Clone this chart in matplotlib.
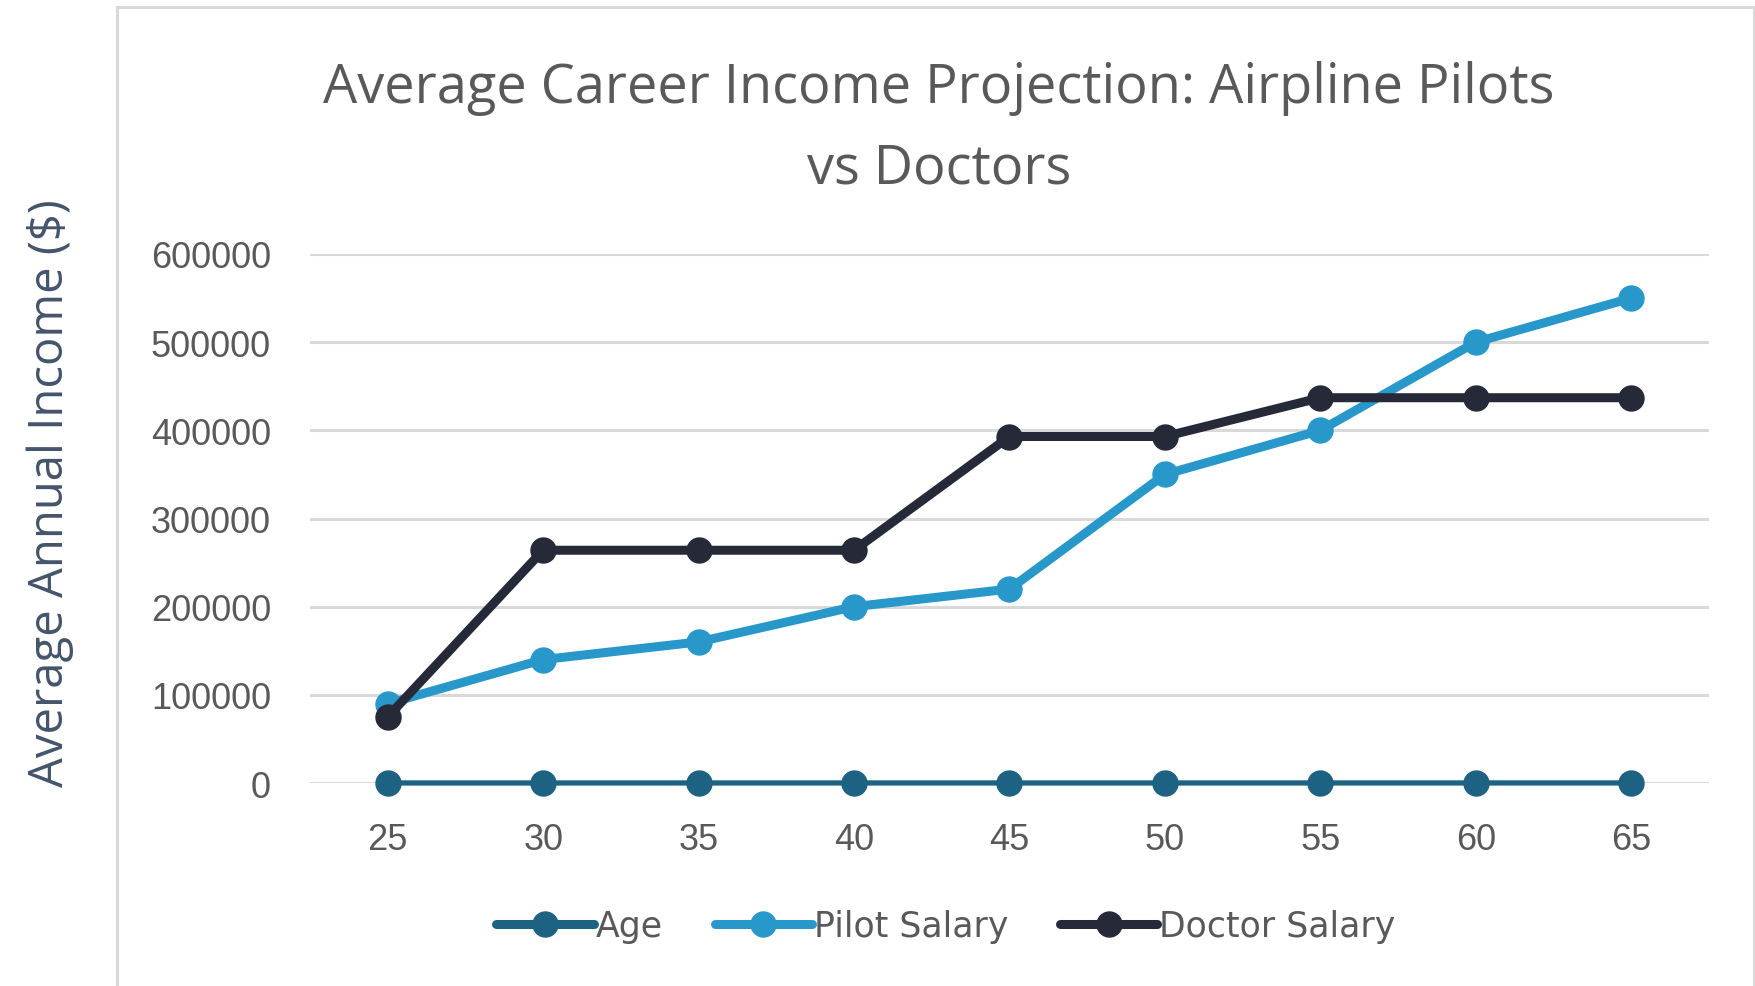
import matplotlib
matplotlib.use('Agg')
import matplotlib.pyplot as plt
from matplotlib.patches import Rectangle
import numpy as np

# data
ages = [25, 30, 35, 40, 45, 50, 55, 60, 65]
age_series = [25, 30, 35, 40, 45, 50, 55, 60, 65]
pilot_salary = [90000, 140000, 160000, 200000, 220000, 350000, 400000, 500000, 550000]
doctor_salary = [75000, 264000, 264000, 264000, 393000, 393000, 437000, 437000, 437000]
y_ticks = [0, 100000, 200000, 300000, 400000, 500000, 600000]

title = 'Average Career Income Projection: Airpline Pilots\nvs Doctors'
y_label = 'Average Annual Income ($)'

age_color = '#1D6283'
pilot_color = '#2898CB'
doctor_color = '#262A38'
grid_color = '#D9D9D9'
text_color = '#595959'

W, H = 1756, 987
fig = plt.figure(figsize=(W / 100, H / 100), dpi=100)
fig.patch.set_facecolor('white')

# chart area border
fig.patches.append(Rectangle((117 / W, -0.05), (1754 - 117) / W, 1.05 - 8 / H,
                             transform=fig.transFigure, fill=False,
                             edgecolor=grid_color, linewidth=2.2))

ax = fig.add_axes([310 / W, 1 - 784 / H, (1709 - 310) / W, (784 - 255) / H])
x = np.arange(len(ages))

ax.plot(x, age_series, color=age_color, lw=3.8, marker='o', ms=18,
        label='Age', solid_capstyle='round', zorder=3, clip_on=False)
ax.plot(x, pilot_salary, color=pilot_color, lw=6.5, marker='o', ms=18,
        label='Pilot Salary', solid_capstyle='round', zorder=4, clip_on=False)
ax.plot(x, doctor_salary, color=doctor_color, lw=6.5, marker='o', ms=18,
        label='Doctor Salary', solid_capstyle='round', zorder=5, clip_on=False)

ax.set_xlim(-0.5, len(ages) - 0.5)
ax.set_ylim(0, 600000)
ax.set_yticks(y_ticks)
ax.set_yticklabels([str(v) for v in y_ticks])
ax.set_xticks(x)
ax.set_xticklabels([str(a) for a in ages])
ax.grid(axis='y', color=grid_color, lw=2.2, zorder=0)
ax.set_axisbelow(True)
for s in ax.spines.values():
    s.set_visible(False)
ax.tick_params(axis='both', length=0, colors=text_color, labelsize=26)
ax.tick_params(axis='y', pad=28)
ax.tick_params(axis='x', pad=28)
for lab in ax.get_xticklabels() + ax.get_yticklabels():
    lab.set_fontfamily('Liberation Sans')

fig.text(939 / W, 1 - 129 / H, title, ha='center', va='center', fontsize=39,
         color=text_color, linespacing=1.6, family=['Open Sans'])

fig.text(50 / W, 1 - 493 / H, y_label, rotation=90, ha='center', va='center',
         fontsize=34, color='#44546A', family=['Open Sans'])

leg = fig.legend(loc='center', bbox_to_anchor=(946 / W, 1 - 927 / H), ncol=3,
                 frameon=False, fontsize=25, handlelength=2.8, handletextpad=0.05,
                 columnspacing=1.5)
for t in leg.get_texts():
    t.set_color(text_color)
for ln in leg.get_lines():
    ln.set_linewidth(6.5)

fig.savefig('out.png', dpi=100)
